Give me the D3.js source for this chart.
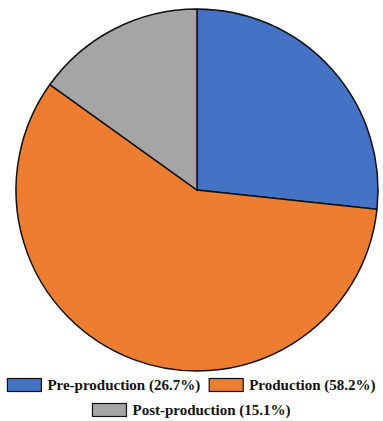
<!DOCTYPE html>
<html>
<head>
<meta charset="utf-8">
<script src="https://cdn.jsdelivr.net/npm/d3@7"></script>
<style>
  body { margin: 0; background: #fff; }
</style>
</head>
<body>
<div id="chart"></div>
<script>
// data
const labels = ["Pre-production", "Production", "Post-production"];
const values = [26.7, 58.2, 15.1];
const colors = ["#4472C4", "#ED7D31", "#A5A5A5"];

const width = 383, height = 421;
const cx = 197, cy = 190, radius = 181;

const svg = d3.select("#chart").append("svg")
  .attr("width", width)
  .attr("height", height);

const pie = d3.pie().sort(null).value(d => d)(values);
const arc = d3.arc().innerRadius(0).outerRadius(radius);

svg.append("g")
  .attr("transform", "translate(" + cx + "," + cy + ")")
  .selectAll("path")
  .data(pie)
  .join("path")
  .attr("d", arc)
  .attr("fill", (d, i) => colors[i])
  .attr("stroke", "#111")
  .attr("stroke-width", 1.5);

// legend - two rows
const legendRows = [[0, 1], [2]];
const rowY = [385, 410];
const font = "bold 15px 'Liberation Serif', 'Times New Roman', serif";
const boxW = 34, boxH = 13, gapBox = 6, gapItem = 9;

const meas = svg.append("text").style("font", font).attr("visibility", "hidden");
function textW(s) { meas.text(s); return meas.node().getComputedTextLength(); }

legendRows.forEach((row, r) => {
  const items = row.map(i => ({ i: i, txt: labels[i] + " (" + values[i].toFixed(1) + "%)" }));
  items.forEach(it => it.w = boxW + gapBox + textW(it.txt));
  const total = d3.sum(items, it => it.w) + gapItem * (items.length - 1);
  let x = (width - total) / 2;
  items.forEach(it => {
    const g = svg.append("g").attr("transform", "translate(" + x + "," + rowY[r] + ")");
    g.append("rect")
      .attr("x", 0).attr("y", -boxH / 2)
      .attr("width", boxW).attr("height", boxH)
      .attr("fill", colors[it.i])
      .attr("stroke", "#111").attr("stroke-width", 1.2);
    g.append("text")
      .attr("x", boxW + gapBox).attr("y", 0)
      .attr("dy", "0.35em")
      .style("font", font)
      .attr("fill", "#111")
      .text(it.txt);
    x += it.w + gapItem;
  });
});
meas.remove();
</script>
</body>
</html>
